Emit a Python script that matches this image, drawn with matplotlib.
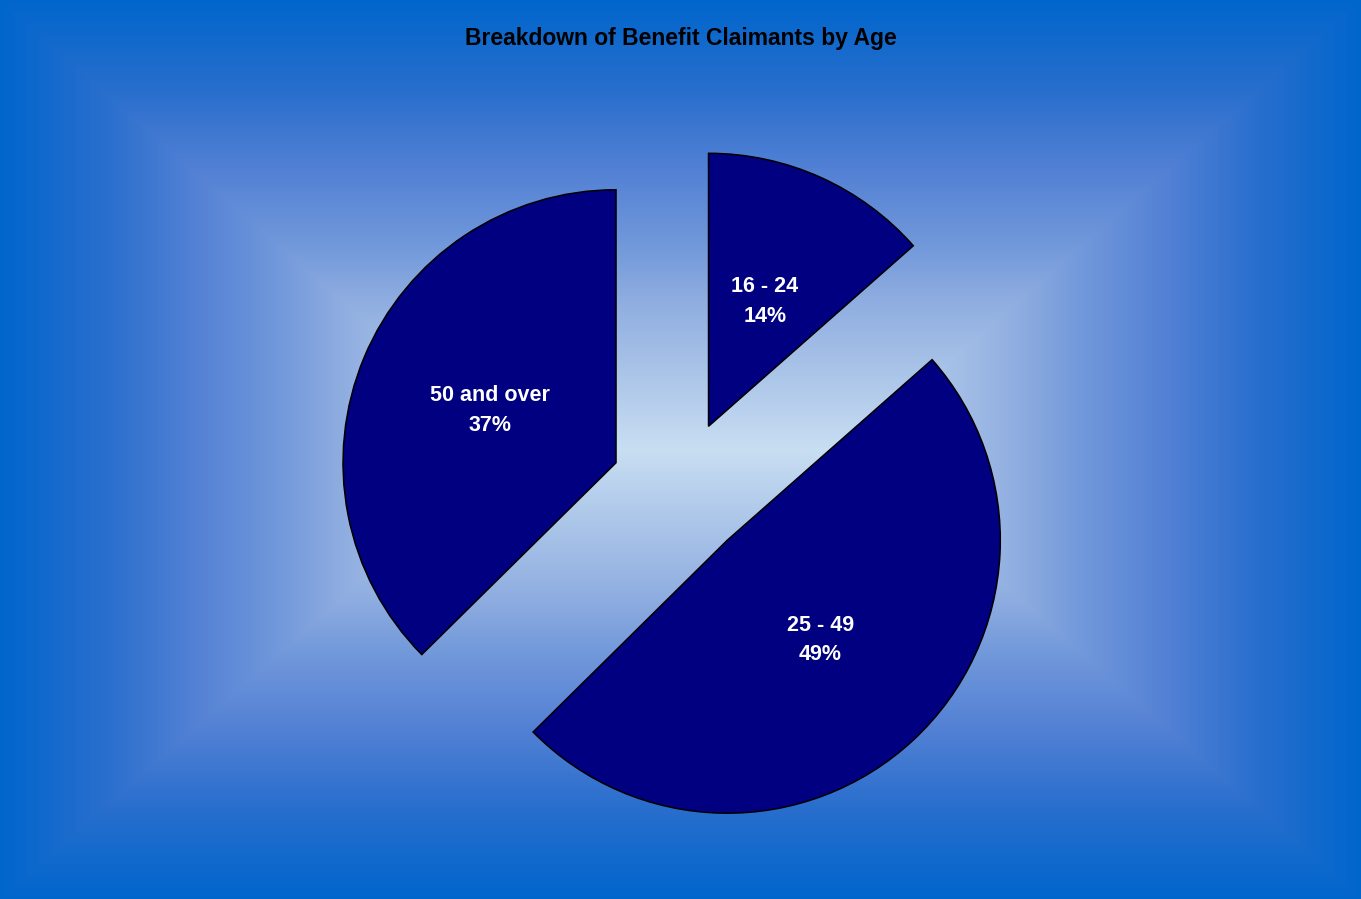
import numpy as np
import matplotlib
matplotlib.use('Agg')
import matplotlib.pyplot as plt

plt.rcParams['font.family'] = ['Liberation Sans', 'DejaVu Sans']

W, H = 1361, 899

labels = ['16 - 24', '25 - 49', '50 and over']
values = [13.5, 49.1, 37.4]
title = 'Breakdown of Benefit Claimants by Age'

# background gradient stops (t=0 centre, t=1 edge)
stop_t = [0.0, 0.33, 0.47, 0.61, 0.8, 1.0]
stop_rgb = np.array([[200, 222, 242],
                     [143, 173, 224],
                     [110, 150, 218],
                     [85, 130, 213],
                     [40, 110, 205],
                     [0, 102, 204]]) / 255.0

fig = plt.figure(figsize=(W/100, H/100), dpi=100)
ax = fig.add_axes([0, 0, 1, 1])

# rectangular "from centre" gradient
xx, yy = np.meshgrid(np.arange(W) + 0.5, np.arange(H) + 0.5)
a = 169
u = np.clip((np.abs(xx - W/2) - a) / (W/2 - a), 0, None)
v = np.abs(yy - H/2) / (H/2)
t = np.maximum(u, v)
img = np.dstack([np.interp(t, stop_t, stop_rgb[:, k]) for k in range(3)])
ax.imshow(img, extent=[0, W, 0, H], origin='lower', zorder=0, interpolation='bilinear')

radius = 273
wedges, texts, autotexts = ax.pie(
    values, explode=[0.254*radius]*3, startangle=90, counterclock=False,
    radius=radius, center=(680, H - 489.5), colors=['#000080']*3,
    wedgeprops=dict(edgecolor='black', linewidth=1.1),
    autopct='%.0f%%', pctdistance=0.5, frame=True)
for lab, at in zip(labels, autotexts):
    at.set_text(lab + '\n' + at.get_text())
    at.set_color('white')
    at.set_fontsize(15.5)
    at.set_fontweight('bold')
    at.set_linespacing(1.55)

ax.set_xlim(0, W)
ax.set_ylim(0, H)
ax.set_aspect('equal')
ax.axis('off')

fig.text(0.5, 1 - 39/H, title, ha='center', va='center',
         fontsize=16.5, fontweight='bold', color='black')

fig.savefig('out.png', dpi=100)
